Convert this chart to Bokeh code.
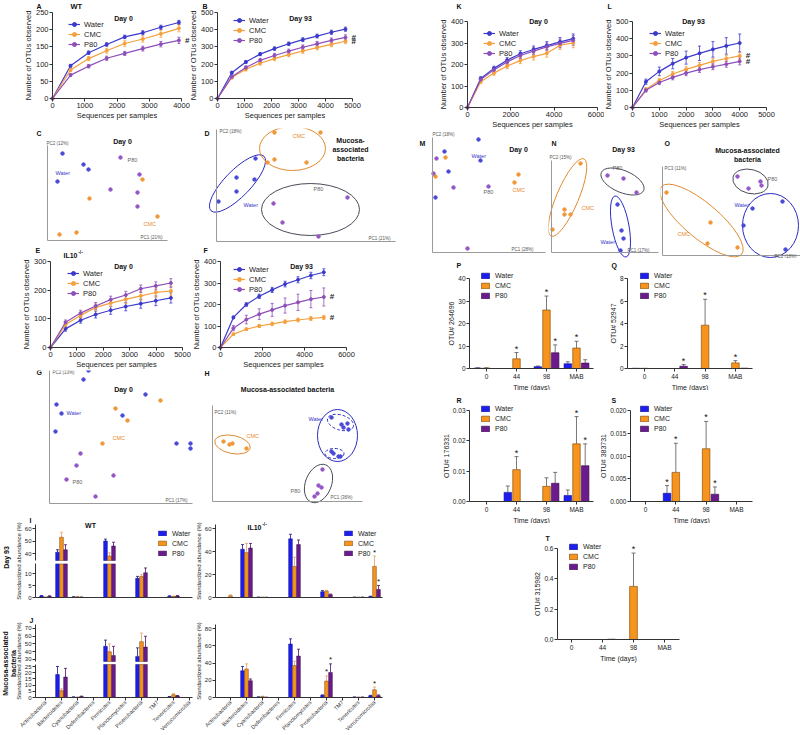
import math
from bokeh.plotting import figure
from bokeh.layouts import row, column
from bokeh.models import (Range1d, Label, Legend, LegendItem, Whisker, TeeHead, LinearAxis,
                          ColumnDataSource, FixedTicker, PrintfTickFormatter)
from bokeh.embed import file_html
from bokeh.resources import INLINE
from bokeh.core.properties import value

FONT = "Liberation Sans"
GROUPS = ["Water", "CMC", "P80"]

# ---------------- rarefaction curves ----------------
A_x = [0, 560, 1120, 1680, 2240, 2800, 3360, 3920]
A_water = [0, 95, 133, 157, 179, 191, 207, 221]
A_water_err = [0, 4, 5, 5, 5, 6, 6, 6]
A_cmc = [0, 83, 116, 139, 160, 173, 188, 204]
A_cmc_err = [0, 5, 6, 7, 8, 9, 10, 10]
A_p80 = [0, 68, 94, 117, 131, 145, 158, 169]
A_p80_err = [0, 4, 5, 6, 6, 7, 8, 9]

B_x = [0, 530, 1050, 1580, 2110, 2640, 3160, 3690, 4220, 4740]
B_water = [0, 150, 212, 258, 290, 318, 342, 363, 385, 403]
B_water_err = [0, 8, 8, 9, 10, 10, 11, 11, 12, 12]
B_cmc = [0, 122, 170, 205, 232, 255, 276, 296, 315, 333]
B_cmc_err = [0, 8, 10, 11, 12, 12, 13, 13, 14, 14]
B_p80 = [0, 127, 180, 222, 250, 275, 298, 318, 338, 355]
B_p80_err = [0, 8, 10, 11, 12, 12, 13, 14, 14, 15]

K_x = [0, 610, 1220, 1830, 2440, 3050, 3660, 4270, 4880]
K_water = [0, 135, 182, 220, 250, 270, 288, 305, 320]
K_water_err = [0, 8, 10, 12, 14, 16, 18, 20, 22]
K_cmc = [0, 120, 160, 193, 218, 237, 252, 290, 300]
K_cmc_err = [0, 8, 10, 12, 14, 16, 18, 20, 22]
K_p80 = [0, 130, 175, 212, 242, 262, 282, 298, 312]
K_p80_err = [0, 8, 10, 12, 14, 16, 18, 20, 22]

L_x = [0, 500, 1000, 1500, 2000, 2500, 3000, 3500, 4000]
L_water = [0, 150, 210, 255, 290, 315, 338, 358, 375]
L_water_err = [0, 15, 25, 30, 38, 42, 45, 48, 52]
L_cmc = [0, 105, 157, 195, 222, 245, 268, 285, 300]
L_cmc_err = [0, 10, 12, 14, 15, 16, 17, 18, 20]
L_p80 = [0, 100, 145, 175, 200, 220, 237, 252, 268]
L_p80_err = [0, 10, 12, 14, 15, 16, 17, 18, 20]

E_x = [0, 570, 1140, 1710, 2280, 2850, 3420, 3990, 4560]
E_water = [0, 65, 95, 115, 130, 143, 153, 163, 173]
E_water_err = [0, 8, 10, 12, 14, 15, 16, 17, 18]
E_cmc = [0, 80, 112, 140, 155, 168, 180, 192, 197]
E_cmc_err = [0, 8, 10, 12, 13, 14, 15, 16, 17]
E_p80 = [0, 88, 120, 145, 167, 183, 205, 215, 225]
E_p80_err = [0, 8, 10, 12, 12, 13, 13, 14, 15]

F_x = [0, 615, 1230, 1845, 2460, 3075, 3690, 4305, 4920]
F_water = [0, 140, 200, 238, 268, 295, 315, 335, 350]
F_water_err = [0, 6, 8, 10, 12, 13, 14, 15, 16]
F_cmc = [0, 62, 85, 100, 110, 120, 128, 135, 140]
F_cmc_err = [0, 5, 6, 7, 8, 8, 9, 9, 10]
F_p80 = [0, 90, 130, 155, 175, 195, 210, 225, 235]
F_p80_err = [0, 12, 20, 25, 30, 35, 38, 40, 42]

# ---------------- PCA (arbitrary PC units) ----------------
C_water_x = [15, 36, 41, 10]
C_water_y = [87, 76, 71, 59]
C_cmc_x = [95, 42, 110, 12, 29]
C_cmc_y = [61, 42, 24, 6, 8]
C_p80_x = [73, 92, 63, 90, 90]
C_p80_y = [83, 66, 51, 48, 34]

D_water_x = [39, 20, 38, 20, 2]
D_water_y = [83, 64, 62, 50, 40]
D_cmc_x = [58, 104, 51, 58, 90]
D_cmc_y = [109, 109, 79, 82, 79]
D_p80_x = [131, 57, 66, 102]
D_p80_y = [44, 38, 19, 5]
D_ell_x = [21, 76, 94]
D_ell_y = [58, 93, 32]
D_ell_w = [76, 66, 98]
D_ell_h = [26, 44, 52]
D_ell_a = [0.80, 0.0, 0.0]

G_water_x = [39, 34, 96, 7, 12, 73, 6, 127, 141, 141]
G_water_y = [133, 124, 109, 99, 90, 88, 72, 60, 60, 55]
G_cmc_x = [111, 66, 78, 53]
G_cmc_y = [103, 95, 83, 60]
G_p80_x = [31, 27, 17, 64, 46]
G_p80_y = [50, 38, 24, 28, 7]

H_water_x = [119, 129, 131, 135, 136, 119, 121, 126, 128]
H_water_y = [84, 77, 74, 78, 72, 50, 48, 45, 45]
H_cmc_x = [11, 17, 20, 34]
H_cmc_y = [60, 57, 58, 53]
H_p80_x = [110, 106, 109, 105, 102]
H_p80_y = [32, 16, 14, 8, 5]
H_ell_x = [125, 20, 106]
H_ell_y = [66, 57, 18]
H_ell_w = [40, 36, 40]
H_ell_h = [52, 18, 26]
H_ell_a = [0.0, -0.2, 1.2]
H_sub_x = [128, 122]
H_sub_y = [79, 48]
H_sub_w = [27, 19]
H_sub_h = [15, 10]
H_sub_a = [-0.3, 0.0]

M_water_x = [46, 48, 16, 3, 12]
M_water_y = [113, 92, 81, 55, 101]
M_cmc_x = [86, 82, 13, 3]
M_cmc_y = [78, 70, 95, 76]
M_p80_x = [56, 4, 21, 1, 35]
M_p80_y = [66, 94, 65, 79, 4]

N_water_x = [66, 70, 72, 69]
N_water_y = [48, 22, 14, 2]
N_cmc_x = [29, 13, 13, 19, 1]
N_cmc_y = [89, 43, 38, 38, 23]
N_p80_x = [56, 72, 85]
N_p80_y = [77, 74, 60]
N_ell_x = [69, 16, 71]
N_ell_y = [26, 55, 71]
N_ell_w = [62, 84, 46]
N_ell_h = [17, 22, 22]
N_ell_a = [1.75, 1.17, -0.4]

O_water_x = [90, 120, 81, 123]
O_water_y = [47, 54, 30, 6]
O_cmc_x = [4, 48, 45, 75]
O_cmc_y = [63, 33, 12, 8]
O_p80_x = [75, 98, 99, 86]
O_p80_y = [79, 74, 70, 67]
O_ell_x = [108, 39, 88]
O_ell_y = [30, 35, 74]
O_ell_w = [56, 105, 36]
O_ell_h = [64, 35, 24]
O_ell_a = [0.0, -0.70, -0.25]

# ---------------- phylum abundance ----------------
PHYLA = ["Actinobacteria", "Bacteroidetes", "Cyanobacteria", "Deferribacteres", "Firmicutes",
         "Planctomycetes", "Proteobacteria", "TM7", "Tenericutes", "Verrucomicrobia"]

I_wt_water = [0.6, 41, 0.2, 0, 50, 0, 8.0, 0, 0.5, 0]
I_wt_water_err = [0.2, 2, 0.1, 0, 1.5, 0, 0.8, 0, 0.2, 0]
I_wt_cmc = [0.1, 53, 0.3, 0, 38, 0, 8.7, 0, 0.4, 0]
I_wt_cmc_err = [0.1, 4, 0.1, 0, 2.5, 0, 0.8, 0, 0.2, 0]
I_wt_p80 = [0.5, 43, 0.1, 0, 46, 0, 10.3, 0, 0.6, 0]
I_wt_p80_err = [0.2, 4, 0.1, 0, 3, 0, 2, 0, 0.2, 0]

I_il_water = [0, 42, 0.2, 0, 51, 0, 5, 0, 0.2, 0.8]
I_il_water_err = [0, 4, 0.1, 0, 4, 0, 1, 0, 0.1, 0.3]
I_il_cmc = [1.5, 39, 0.2, 0, 27, 0, 5.5, 0, 0.2, 27]
I_il_cmc_err = [0.8, 8, 0.1, 0, 8, 0, 0.8, 0, 0.1, 9]
I_il_p80 = [0, 43, 0.1, 0, 46, 0, 2.5, 0, 0.2, 7]
I_il_p80_err = [0, 4, 0.1, 0, 4, 0, 0.5, 0, 0.1, 3.5]
I_il_stars = [[], [9], [9]]

J_wt_water = [0, 18.5, 0.3, 0, 47, 0, 34, 0, 0.5, 0]
J_wt_water_err = [0, 6.5, 0.2, 0, 8, 0, 11, 0, 0.3, 0]
J_wt_cmc = [0, 5.5, 0.2, 0, 40, 0, 53, 0, 2.2, 0]
J_wt_cmc_err = [0, 1.5, 0.1, 0, 10, 0, 11, 0, 1, 0]
J_wt_p80 = [0, 16.5, 0.8, 0, 35, 0, 46, 0, 1.2, 0]
J_wt_p80_err = [0, 7, 0.3, 0, 12, 0, 14, 0, 0.4, 0]

J_il_water = [0, 31, 0.5, 0, 62, 0, 2.5, 0, 0.4, 2]
J_il_water_err = [0, 5, 0.2, 0, 6, 0, 0.5, 0, 0.2, 0.5]
J_il_cmc = [0, 33, 1.0, 0, 37, 0, 19, 0, 0.3, 9]
J_il_cmc_err = [0, 6, 0.5, 0, 5, 0, 6, 0, 0.2, 3]
J_il_p80 = [0, 19.5, 0.2, 0, 48, 0, 29, 0, 0.3, 2]
J_il_p80_err = [0, 2, 0.1, 0, 8, 0, 10, 0, 0.2, 1]
J_il_stars = [[], [6, 9], [6]]

# ---------------- OTU bar charts ----------------
TIMES = ["0", "44", "98", "MAB"]

P_water = [0.2, 0, 0.8, 2.1]
P_water_err = [0.1, 0, 0.3, 0.9]
P_cmc = [0.2, 4.3, 26, 9.1]
P_cmc_err = [0.1, 2.8, 6.2, 3]
P_p80 = [0, 0, 7, 2.4]
P_p80_err = [0, 0, 3.5, 1.5]
P_stars = [[], [1, 2, 3], [2]]

Q_water = [0.02, 0, 0, 0]
Q_water_err = [0, 0, 0, 0]
Q_cmc = [0.02, 0, 3.85, 0.5]
Q_cmc_err = [0, 0, 2.3, 0.2]
Q_p80 = [0, 0.2, 0, 0.03]
Q_p80_err = [0, 0.15, 0, 0]
Q_stars = [[], [2, 3], [1]]

R_water = [0, 0.003, 0, 0.002]
R_water_err = [0, 0.0021, 0, 0.0018]
R_cmc = [0, 0.0105, 0.005, 0.019]
R_cmc_err = [0, 0.0043, 0.0028, 0.009]
R_p80 = [0, 0, 0.006, 0.0118]
R_p80_err = [0, 0, 0.0036, 0.0072]
R_stars = [[], [1, 3], [3]]

S_water = [0, 0.0018, 0, 0]
S_water_err = [0, 0.0017, 0, 0]
S_cmc = [0, 0.0064, 0.0116, 0]
S_cmc_err = [0, 0.0064, 0.006, 0]
S_p80 = [0, 0, 0.0016, 0]
S_p80_err = [0, 0, 0.0016, 0]
S_stars = [[1], [1, 2], [2]]

T_water = [0, 0, 0, 0]
T_water_err = [0, 0, 0, 0]
T_cmc = [0, 0, 0.35, 0]
T_cmc_err = [0, 0, 0.22, 0]
T_p80 = [0, 0.002, 0, 0]
T_p80_err = [0, 0, 0, 0]
T_stars = [[], [2], []]

# ---------------- colours ----------------
LC = ["#3c3acb", "#f5a03c", "#8d4fba"]          # curve colours
BF = ["#1d1df0", "#f7941d", "#6c1b8e"]          # bar fills
BL = ["#0e0e80", "#7a3f00", "#2f0a40"]          # bar outlines
BE = ["#14148a", "#e8a060", "#4a1060"]          # error bars (abundance)
PT = ["#4a4ad8", "#f09838", "#9457c6"]          # pca points
PL = ["#3535c8", "#e8892c", "#666666"]          # pca labels
PE = ["#2b2bc0", "#e08a30", "#4a4a5a"]          # pca ellipses


class Panel:
    """A figure whose frame fills the whole box; the axes sit inside it at fixed locations."""

    def __init__(self, box, frame, xr, yr):
        self.box, self.frame, self.xr, self.yr = box, frame, xr, yr
        x0, y0, x1, y1 = box
        fx0, fy0, fx1, fy1 = frame
        kx = (xr[1] - xr[0]) / (fx1 - fx0)
        ky = (yr[1] - yr[0]) / (fy1 - fy0)
        full_x = (xr[0] - (fx0 - x0) * kx, xr[1] + (x1 - fx1) * kx)
        full_y = (yr[0] - (y1 - fy1) * ky, yr[1] + (fy0 - y0) * ky)
        p = figure(width=x1 - x0, height=y1 - y0, title=None,
                   x_range=Range1d(*full_x), y_range=Range1d(*full_y),
                   output_backend="svg", toolbar_location=None,
                   min_border=0, min_border_left=0, min_border_right=0,
                   min_border_top=0, min_border_bottom=0)
        p.outline_line_color = None
        p.xgrid.visible = False
        p.ygrid.visible = False
        p.background_fill_color = "white"
        p.border_fill_color = "white"
        p.xaxis.fixed_location = yr[0]
        p.yaxis.fixed_location = xr[0]
        p.xaxis.bounds = tuple(xr)
        p.yaxis.bounds = tuple(yr)
        self.p = p

    def dx(self, ix):
        fx0, _, fx1, _ = self.frame
        a, b = self.xr
        return a + (ix - fx0) / (fx1 - fx0) * (b - a)

    def dy(self, iy):
        _, fy0, _, fy1 = self.frame
        a, b = self.yr
        return a + (fy1 - iy) / (fy1 - fy0) * (b - a)

    def label(self, ix, iy, text, size=7, color="#111", bold=False, align="left",
              baseline="middle", angle=0.0):
        self.p.add_layout(Label(x=self.dx(ix), y=self.dy(iy), text=text, text_font=FONT,
                                text_font_size=f"{size}px",
                                text_font_style="bold" if bold else "normal",
                                text_color=color, text_align=align, text_baseline=baseline,
                                angle=angle))


def style_axis(ax, tick_size, label_size, color="#333"):
    ax.axis_line_color = color
    ax.axis_line_width = 1
    ax.major_tick_line_color = color
    ax.major_tick_out = 3
    ax.major_tick_in = 0
    ax.minor_tick_line_color = None
    ax.major_label_text_font = FONT
    ax.major_label_text_font_size = tick_size
    ax.major_label_text_color = "#222"
    ax.major_label_standoff = 1
    ax.axis_label_text_font = FONT
    ax.axis_label_text_font_size = label_size
    ax.axis_label_text_font_style = "normal"
    ax.axis_label_text_color = "#222"
    ax.axis_label_standoff = 0


def style_axes(p, tick_size, label_size, color="#333"):
    for ax in p.axis:
        style_axis(ax, tick_size, label_size, color)


def add_legend(P, items, gx, y_first, gw, gh, size, standoff=4, pitch=11):
    x0, y0, x1, y1 = P.box
    n = len(items)
    bottom = y_first + (n - 1) * pitch + pitch / 2
    leg = Legend(items=items, location=(gx - x0, y1 - bottom), orientation="vertical",
                 background_fill_alpha=0, border_line_alpha=0, padding=0, margin=0,
                 spacing=0, glyph_width=gw, glyph_height=gh, label_height=10,
                 label_standoff=standoff, label_text_font=FONT, label_text_font_size=size,
                 label_text_color="#222")
    P.p.add_layout(leg)


def rare(box, frame, xmax, xstep, ymax, ystep, xs, series, leg, hashes=()):
    P = Panel(box, frame, (0, xmax), (0, ymax))
    p = P.p
    p.xaxis.ticker = FixedTicker(ticks=list(range(0, xmax + 1, xstep)))
    p.yaxis.ticker = FixedTicker(ticks=list(range(0, ymax + 1, ystep)))
    p.xaxis.axis_label = "Sequences per samples"
    p.yaxis.axis_label = "Number of OTUs observed"
    style_axes(p, "7.5px", "7.5px")
    items = []
    for si, (name, ys, es) in enumerate(series):
        col = LC[si]
        sel = [i for i, e in enumerate(es) if e > 0]
        wsrc = ColumnDataSource(dict(x=[xs[i] for i in sel],
                                     lo=[ys[i] - es[i] for i in sel],
                                     hi=[ys[i] + es[i] for i in sel]))
        p.add_layout(Whisker(source=wsrc, base="x", lower="lo", upper="hi",
                             line_color=col, line_width=0.8,
                             upper_head=TeeHead(size=3, line_color=col, line_width=0.8),
                             lower_head=TeeHead(size=3, line_color=col, line_width=0.8)))
        src = ColumnDataSource(dict(x=xs, y=ys))
        r1 = p.line("x", "y", source=src, line_color=col, line_width=1.2)
        r2 = p.scatter("x", "y", source=src, size=3, fill_color=col, line_color=col)
        items.append(LegendItem(label=name, renderers=[r1, r2]))
        if si in hashes:
            p.add_layout(Label(x=xs[-1], y=ys[-1], x_offset=6, text="#", text_font=FONT,
                               text_font_size="8px", text_font_style="bold",
                               text_color="#222", text_baseline="middle"))
    add_legend(P, items, leg[0], leg[1], 12, 10, "7.5px", pitch=leg[2])
    return P


def barp(box, frame, xr, ymax, yticks, fmt, ylabel, groups, stars, leg):
    P = Panel(box, frame, xr, (0, ymax))
    p = P.p
    p.xaxis.ticker = FixedTicker(ticks=list(range(len(TIMES))))
    p.xaxis.major_label_overrides = {i: t for i, t in enumerate(TIMES)}
    p.yaxis.ticker = FixedTicker(ticks=yticks)
    if fmt:
        p.yaxis.formatter = PrintfTickFormatter(format=fmt)
    p.xaxis.axis_label = "Time (days)"
    p.yaxis.axis_label = ylabel
    style_axes(p, "6.5px", "7px")
    p.xaxis.axis_label_standoff = 1
    items = []
    for gi, (vals, errs) in enumerate(groups):
        xs = [i + (gi - 1) * 0.29 for i in range(len(vals))]
        r = p.vbar(x=xs, top=vals, width=0.25, fill_color=BF[gi], line_color=BL[gi],
                   line_width=0.6)
        items.append(LegendItem(label=GROUPS[gi], renderers=[r]))
        sel = [i for i, e in enumerate(errs) if e > 0]
        if sel:
            wsrc = ColumnDataSource(dict(x=[xs[i] for i in sel], lo=[vals[i] for i in sel],
                                         hi=[vals[i] + errs[i] for i in sel]))
            p.add_layout(Whisker(source=wsrc, base="x", lower="lo", upper="hi",
                                 line_color="#555", line_width=0.8, lower_head=None,
                                 upper_head=TeeHead(size=4, line_color="#555", line_width=0.8)))
        st = stars[gi]
        if st:
            p.text(x=[xs[i] for i in st], y=[vals[i] + errs[i] for i in st],
                   text=["*"] * len(st), text_align="center", text_baseline="middle",
                   y_offset=-4, text_font=value(FONT), text_font_size=value("9px"),
                   text_color="#111")
    add_legend(P, items, leg[0], leg[1], 10, 7, "7px", standoff=5, pitch=leg[2])
    return P


def brk(lo_max, lo_scale, up_min, up_base, up_scale):
    def f(v):
        if v <= lo_max:
            return v * lo_scale
        return up_base + (v - up_min) * up_scale
    return f


def lin(scale):
    return lambda v: v * scale


def abundance(box, frame, xr, tf, segs, ticks, groups, stars=None, leg=None, cat_labels=False):
    P = Panel(box, frame, xr, (0, 73))
    p = P.p
    style_axes(p, "6px", "6px")
    if len(segs) == 1:
        p.yaxis.ticker = FixedTicker(ticks=[tf(v) for v in ticks])
        p.yaxis.major_label_overrides = {tf(v): str(v) for v in ticks}
        p.yaxis.axis_label = "Standardized abundance (%)"
    else:
        # broken axis: lower segment on the main axis, upper segment on a second axis
        (a0, b0), (a1, b1) = segs
        lo_ticks = [v for v in ticks if v <= b0]
        up_ticks = [v for v in ticks if v >= a1]
        p.yaxis.bounds = (0, tf(b0))
        p.yaxis.ticker = FixedTicker(ticks=[tf(v) for v in lo_ticks])
        p.yaxis.major_label_overrides = {tf(v): str(v) for v in lo_ticks}
        ax2 = LinearAxis(fixed_location=P.xr[0], bounds=(tf(a1), 73),
                         ticker=FixedTicker(ticks=[tf(v) for v in up_ticks]),
                         major_label_overrides={tf(v): str(v) for v in up_ticks})
        style_axis(ax2, "6px", "6px")
        p.add_layout(ax2, "left")
        P.label(P.frame[0] - 17, (P.frame[1] + P.frame[3]) / 2, "Standardized abundance (%)",
                6, color="#222", align="center", angle=math.pi / 2)
    if cat_labels:
        p.xaxis.ticker = FixedTicker(ticks=list(range(len(PHYLA))))
        p.xaxis.major_label_overrides = {i: n for i, n in enumerate(PHYLA)}
        p.xaxis.major_label_orientation = math.pi / 4
        p.xaxis.major_label_text_font_size = "5.5px"
        p.xaxis.major_label_text_color = "#333"
    else:
        p.xaxis.ticker = FixedTicker(ticks=[])
    items = []
    for gi, (vals, errs) in enumerate(groups):
        xs = [i + (gi - 1) * 0.25 for i in range(len(vals))]
        first = None
        for (a, b) in segs:
            idx = [i for i, v in enumerate(vals) if v > a]
            if not idx:
                continue
            r = p.vbar(x=[xs[i] for i in idx],
                       bottom=[tf(a) if a > 0 else 0 for i in idx],
                       top=[tf(min(vals[i], b)) for i in idx],
                       width=0.23, fill_color=BF[gi], line_color=BL[gi], line_width=0.5)
            if first is None:
                first = r
        if first is not None:
            items.append(LegendItem(label=GROUPS[gi], renderers=[first]))
        sel = [i for i, e in enumerate(errs) if e > 0]
        if sel:
            wsrc = ColumnDataSource(dict(x=[xs[i] for i in sel], lo=[tf(vals[i]) for i in sel],
                                         hi=[tf(vals[i] + errs[i]) for i in sel]))
            p.add_layout(Whisker(source=wsrc, base="x", lower="lo", upper="hi",
                                 line_color=BE[gi], line_width=0.8, lower_head=None,
                                 upper_head=TeeHead(size=3, line_color=BE[gi], line_width=0.8)))
        if stars and stars[gi]:
            st = stars[gi]
            p.text(x=[xs[i] for i in st], y=[tf(vals[i] + errs[i]) for i in st],
                   text=["*"] * len(st), text_align="center", text_baseline="middle",
                   y_offset=-4, text_font=value(FONT), text_font_size=value("8px"),
                   text_color="#111")
    if leg:
        add_legend(P, items, leg[0], leg[1], 10, 6, "7px", standoff=5, pitch=leg[2])
    return P


def pca(box, frame, pts, ell=None, sub=None):
    fx0, fy0, fx1, fy1 = frame
    P = Panel(box, frame, (0, fx1 - fx0), (0, fy1 - fy0))
    p = P.p
    for ax in p.axis:
        ax.ticker = FixedTicker(ticks=[])
        ax.axis_line_color = "#9a9a9a"
        ax.major_tick_line_color = None
        ax.minor_tick_line_color = None
    if ell:
        ex, ey, ew, eh, ea, cols = ell
        p.ellipse(x=ex, y=ey, width=ew, height=eh, angle=ea, fill_color=None,
                  line_color=cols, line_width=1)
    if sub:
        ex, ey, ew, eh, ea, col = sub
        p.ellipse(x=ex, y=ey, width=ew, height=eh, angle=ea, fill_color=None,
                  line_color=col, line_width=1, line_dash="3 2")
    for gi, (xs, ys) in enumerate(pts):
        p.scatter(x=xs, y=ys, size=3.5, fill_color=PT[gi], line_color=PT[gi])
    return P


def il10(P, ix, iy, size=7.5):
    P.label(ix, iy, "IL10", size, bold=True)
    P.label(ix + size * 2.1, iy - 3, "-/-", size * 0.7, bold=True)


# ================= LEFT HALF =================
A = rare((0, 0, 190, 128), (52, 12, 181, 98), 4000, 1000, 250, 50, A_x,
         [("Water", A_water, A_water_err), ("CMC", A_cmc, A_cmc_err), ("P80", A_p80, A_p80_err)],
         (68, 23, 10.5), hashes=(2,))
A.label(36, 6, "A", 7, bold=True)
A.label(70, 6, "WT", 7.5, bold=True)
A.label(123, 18, "Day 0", 7, bold=True, align="center")

B = rare((190, 0, 400, 128), (217, 12, 352, 98), 5000, 1000, 500, 100, B_x,
         [("Water", B_water, B_water_err), ("CMC", B_cmc, B_cmc_err), ("P80", B_p80, B_p80_err)],
         (233, 19, 10.5), hashes=(1, 2))
B.label(202, 6, "B", 7, bold=True)
B.label(300, 18, "Day 93", 7, bold=True, align="center")

C = pca((0, 128, 200, 243), (47, 145, 167, 240),
        [(C_water_x, C_water_y), (C_cmc_x, C_cmc_y), (C_p80_x, C_p80_y)])
C.label(36, 133, "C", 7, bold=True)
C.label(122, 141, "Day 0", 7, bold=True, align="center")
C.label(46, 143, "PC2 (12%)", 4.5, color="#555")
C.label(140, 237, "PC1 (21%)", 4.5, color="#555")
C.label(55, 172, "Water", 5.5, color=PL[0])
C.label(127, 159, "P80", 5.5, color=PL[2])
C.label(143, 223, "CMC", 5.5, color=PL[1])

D = pca((200, 128, 400, 243), (216, 129, 395, 241),
        [(D_water_x, D_water_y), (D_cmc_x, D_cmc_y), (D_p80_x, D_p80_y)],
        ell=(D_ell_x, D_ell_y, D_ell_w, D_ell_h, D_ell_a, PE))
D.label(204, 133, "D", 7, bold=True)
D.label(219, 131, "PC2 (18%)", 4.5, color="#555")
D.label(368, 238, "PC1 (21%)", 4.5, color="#555")
D.label(350, 140, "Mucosa-", 7, bold=True, align="center")
D.label(350, 149, "associated", 7, bold=True, align="center")
D.label(350, 158, "bacteria", 7, bold=True, align="center")
D.label(292, 135, "CMC", 5.5, color=PL[1])
D.label(243, 204, "Water", 5.5, color=PL[0])
D.label(313, 188, "P80", 5.5, color=PL[2])

E = rare((0, 243, 191, 370), (50, 261, 182, 347), 5000, 1000, 300, 100, E_x,
         [("Water", E_water, E_water_err), ("CMC", E_cmc, E_cmc_err), ("P80", E_p80, E_p80_err)],
         (67, 273, 10))
E.label(35, 250, "E", 7, bold=True)
il10(E, 63, 255, 7)
E.label(123, 266, "Day 0", 7, bold=True, align="center")

F = rare((191, 243, 400, 370), (220, 261, 346, 347), 6000, 2000, 400, 100, F_x,
         [("Water", F_water, F_water_err), ("CMC", F_cmc, F_cmc_err), ("P80", F_p80, F_p80_err)],
         (233, 268, 10.5), hashes=(1, 2))
F.label(203, 250, "F", 7, bold=True)
F.label(301, 266, "Day 93", 7, bold=True, align="center")

G = pca((0, 370, 200, 508), (49, 370, 192, 503),
        [(G_water_x, G_water_y), (G_cmc_x, G_cmc_y), (G_p80_x, G_p80_y)])
G.label(36, 372, "G", 7, bold=True)
G.label(52, 372, "PC2 (13%)", 4.5, color="#555")
G.label(165, 500, "PC1 (17%)", 4.5, color="#555")
G.label(123, 389, "Day 0", 7, bold=True, align="center")
G.label(66, 412, "Water", 5.5, color=PL[0])
G.label(112, 437, "CMC", 5.5, color=PL[1])
G.label(72, 481, "P80", 5.5, color=PL[2])

H = pca((200, 370, 400, 508), (212, 405, 362, 501),
        [(H_water_x, H_water_y), (H_cmc_x, H_cmc_y), (H_p80_x, H_p80_y)],
        ell=(H_ell_x, H_ell_y, H_ell_w, H_ell_h, H_ell_a, PE),
        sub=(H_sub_x, H_sub_y, H_sub_w, H_sub_h, H_sub_a, PE[0]))
H.label(204, 373, "H", 7, bold=True)
H.label(287, 389, "Mucosa-associated bacteria", 7, bold=True, align="center")
H.label(214, 412, "PC2 (11%)", 4.5, color="#555")
H.label(330, 497, "PC1 (36%)", 4.5, color="#555")
H.label(246, 435, "CMC", 5.5, color=PL[1])
H.label(308, 418, "Water", 5.5, color=PL[0])
H.label(290, 490, "P80", 5.5, color=PL[2])

tfI = brk(14.0, 2.4, 34.4, 37.0, 1.25)
IW = abundance((0, 508, 196, 606), (35, 524, 192, 597), (-0.625, 9.1875), tfI,
               [(0, 14.0), (34.4, float("inf"))], [0, 5, 10, 40, 50, 60],
               [(I_wt_water, I_wt_water_err), (I_wt_cmc, I_wt_cmc_err), (I_wt_p80, I_wt_p80_err)],
               leg=(157, 533, 10))
IW.label(29, 520, "I", 7, bold=True)
IW.label(90, 525, "WT", 7, bold=True, align="center")
IW.label(6, 557, "Day 93", 7, bold=True, align="center", angle=math.pi / 2)

II = abundance((196, 508, 400, 606), (215, 524, 382, 597), (-0.9375, 9.5), lin(1.15),
               [(0, float("inf"))], [0, 20, 40, 60],
               [(I_il_water, I_il_water_err), (I_il_cmc, I_il_cmc_err), (I_il_p80, I_il_p80_err)],
               stars=I_il_stars, leg=(343, 533, 10))
il10(II, 247, 527, 7)

tfJ = brk(26.6, 1.24, 27.4, 36.0, 0.775)
JW = abundance((0, 606, 196, 735), (35, 624, 192, 697), (-0.625, 9.1875), tfJ,
               [(0, 26.6), (27.4, float("inf"))], [0, 5, 10, 15, 20, 25, 30, 40, 50, 60, 70],
               [(J_wt_water, J_wt_water_err), (J_wt_cmc, J_wt_cmc_err), (J_wt_p80, J_wt_p80_err)],
               cat_labels=True)
JW.label(29, 620, "J", 7, bold=True)
JW.label(5, 663, "Mucosa-associated", 7, bold=True, align="center", angle=math.pi / 2)
JW.label(13, 663, "bacteria", 7, bold=True, align="center", angle=math.pi / 2)

JI = abundance((196, 606, 400, 735), (215, 624, 382, 697), (-0.9375, 9.5), lin(0.8625),
               [(0, float("inf"))], [0, 20, 40, 60, 80],
               [(J_il_water, J_il_water_err), (J_il_cmc, J_il_cmc_err), (J_il_p80, J_il_p80_err)],
               stars=J_il_stars, cat_labels=True)

# ================= RIGHT HALF =================
K = rare((400, 0, 604, 130), (467, 21, 597, 107), 6000, 2000, 400, 100, K_x,
         [("Water", K_water, K_water_err), ("CMC", K_cmc, K_cmc_err), ("P80", K_p80, K_p80_err)],
         (483, 32, 10.5))
K.label(456, 6, "K", 7, bold=True)
K.label(538, 21, "Day 0", 7, bold=True, align="center")

L = rare((604, 0, 800, 130), (632, 21, 766, 107), 5000, 1000, 500, 100, L_x,
         [("Water", L_water, L_water_err), ("CMC", L_cmc, L_cmc_err), ("P80", L_p80, L_p80_err)],
         (649, 32, 10.5), hashes=(1, 2))
L.label(607, 6, "L", 7, bold=True)
L.label(693, 21, "Day 93", 7, bold=True, align="center")

M = pca((400, 130, 548, 258), (432, 137, 545, 252),
        [(M_water_x, M_water_y), (M_cmc_x, M_cmc_y), (M_p80_x, M_p80_y)])
M.label(419, 143, "M", 7, bold=True)
M.label(432, 134, "PC2 (18%)", 4.5, color="#555")
M.label(511, 249, "PC1 (28%)", 4.5, color="#555")
M.label(518, 149, "Day 0", 7, bold=True, align="center")
M.label(471, 155, "Water", 5.5, color=PL[0])
M.label(483, 191, "P80", 5.5, color=PL[2])
M.label(512, 189, "CMC", 5.5, color=PL[1])

N = pca((548, 130, 660, 258), (551, 160, 658, 252),
        [(N_water_x, N_water_y), (N_cmc_x, N_cmc_y), (N_p80_x, N_p80_y)],
        ell=(N_ell_x, N_ell_y, N_ell_w, N_ell_h, N_ell_a, PE))
N.label(551, 143, "N", 7, bold=True)
N.label(623, 149, "Day 93", 7, bold=True, align="center")
N.label(549, 157, "PC2 (15%)", 4.5, color="#555")
N.label(627, 250, "PC1 (17%)", 4.5, color="#555")
N.label(612, 167, "P80", 5.5, color=PL[2])
N.label(581, 207, "CMC", 5.5, color=PL[1])
N.label(600, 241, "Water", 5.5, color=PL[0])

O = pca((660, 130, 800, 258), (662, 166, 800, 255),
        [(O_water_x, O_water_y), (O_cmc_x, O_cmc_y), (O_p80_x, O_p80_y)],
        ell=(O_ell_x, O_ell_y, O_ell_w, O_ell_h, O_ell_a, PE))
O.label(664, 143, "O", 7, bold=True)
O.label(747, 150, "Mucosa-associated", 7, bold=True, align="center")
O.label(747, 159, "bacteria", 7, bold=True, align="center")
O.label(664, 168, "PC3 (11%)", 4.5, color="#555")
O.label(774, 256, "PC2 (18%)", 4.5, color="#555")
O.label(767, 178, "P80", 5.5, color=PL[2])
O.label(734, 204, "Water", 5.5, color=PL[0])
O.label(677, 233, "CMC", 5.5, color=PL[1])

P = barp((400, 258, 600, 390), (469, 278, 593, 368), (-0.567, 3.567), 40, [0, 10, 20, 30, 40], None,
         "OTU# 264696", [(P_water, P_water_err), (P_cmc, P_cmc_err), (P_p80, P_p80_err)], P_stars,
         (480, 274, 10.5))
P.label(456, 265, "P", 7, bold=True)

Q = barp((600, 258, 800, 390), (627, 278, 752, 368), (-0.561, 3.564), 8, [0, 2, 4, 6, 8], None,
         "OTU# 52947", [(Q_water, Q_water_err), (Q_cmc, Q_cmc_err), (Q_p80, Q_p80_err)], Q_stars,
         (639, 274, 10.5))
Q.label(611, 265, "Q", 7, bold=True)

R = barp((400, 390, 600, 523), (469, 410, 593, 501), (-0.567, 3.567), 0.03, [0, 0.01, 0.02, 0.03], "%.2f",
         "OTU# 176331", [(R_water, R_water_err), (R_cmc, R_cmc_err), (R_p80, R_p80_err)], R_stars,
         (480, 407, 10.5))
R.label(456, 400, "R", 7, bold=True)

S = barp((600, 390, 800, 523), (630, 410, 752, 501), (-0.495, 3.53), 0.02,
         [0, 0.005, 0.01, 0.015, 0.02], "%.3f",
         "OTU# 383731", [(S_water, S_water_err), (S_cmc, S_cmc_err), (S_p80, S_p80_err)], S_stars,
         (639, 407, 10.5))
S.label(611, 400, "S", 7, bold=True)

T = barp((400, 523, 800, 735), (557, 548, 679, 639), (-0.452, 3.484), 0.6, [0, 0.2, 0.4, 0.6], "%.1f",
         "OTU# 315982", [(T_water, T_water_err), (T_cmc, T_cmc_err), (T_p80, T_p80_err)], T_stars,
         (568, 545, 10.5))
T.label(545, 538, "T", 7, bold=True)

left = column(row(A.p, B.p), row(C.p, D.p), row(E.p, F.p), row(G.p, H.p),
              row(IW.p, II.p), row(JW.p, JI.p))
right = column(row(K.p, L.p), row(M.p, N.p, O.p), row(P.p, Q.p), row(R.p, S.p), T.p)
page = row(left, right)

open("out.html", "w").write(file_html(page, INLINE))
